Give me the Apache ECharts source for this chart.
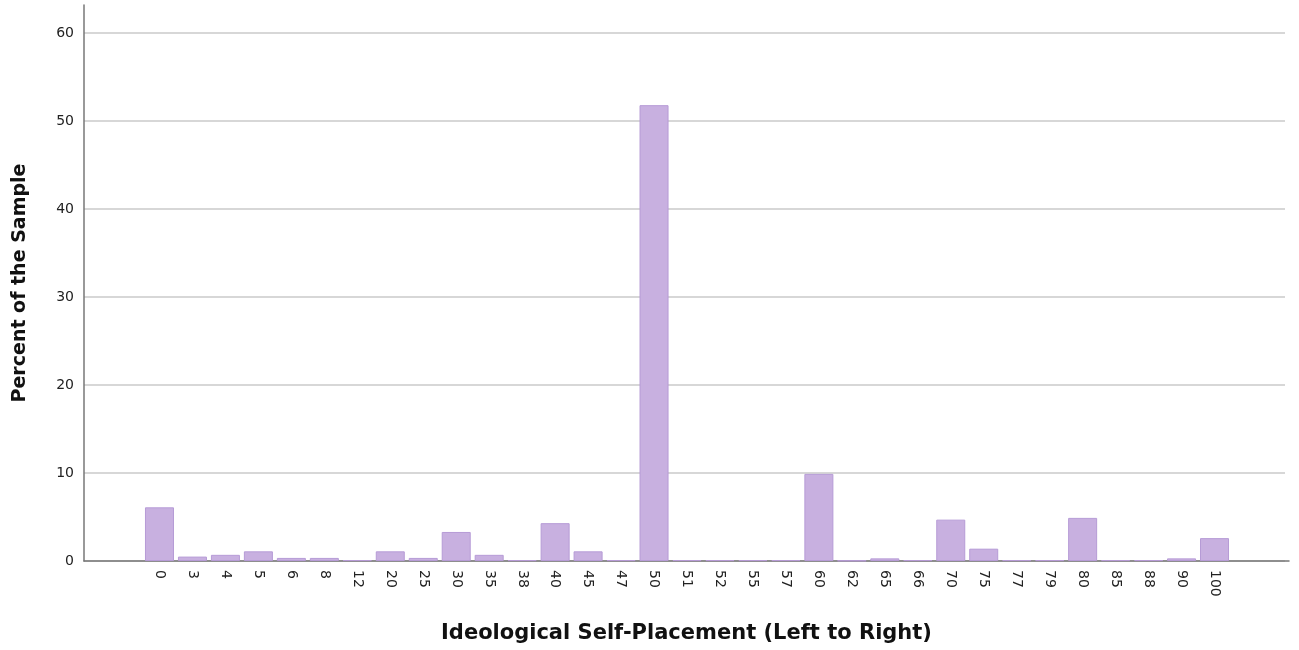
<!DOCTYPE html>
<html>
<head>
<meta charset="utf-8">
<script src="https://cdn.jsdelivr.net/npm/echarts@6/dist/echarts.min.js"></script>
<style>
  html, body { margin: 0; padding: 0; background: #fff; }
  #chart { width: 1299px; height: 650px; }
</style>
</head>
<body>
<div id="chart"></div>
<script>
var categories = ['0', '3', '4', '5', '6', '8', '12', '20', '25', '30', '35', '38', '40', '45', '47',
  '50', '51', '52', '55', '57', '60', '62', '65', '66', '70', '75', '77', '79', '80', '85', '88', '90', '100'];
var percents = [6.1, 0.5, 0.7, 1.1, 0.35, 0.35, 0.1, 1.1, 0.35, 3.3, 0.7, 0.1, 4.3, 1.1, 0.1,
  51.8, 0.1, 0.1, 0.1, 0.1, 9.9, 0.05, 0.3, 0.1, 4.7, 1.4, 0.1, 0.1, 4.9, 0.1, 0.1, 0.3, 2.6];
var yTicks = [0, 10, 20, 30, 40, 50, 60];

var font = 'DejaVu Sans';
var chart = echarts.init(document.getElementById('chart'));

chart.setOption({
  animation: false,
  backgroundColor: '#fff',
  grid: [
    // frame: axis lines + labels + titles
    { left: 84, right: 10, top: 5, bottom: 89, outerBoundsMode: 'none', containLabel: false },
    // gridlines only
    { left: 84, right: 14, top: 33, bottom: 89, outerBoundsMode: 'none', containLabel: false },
    // bars
    { left: 143, width: 1088, top: 33, bottom: 89, outerBoundsMode: 'none', containLabel: false }
  ],
  xAxis: [
    {
      gridIndex: 0, type: 'category', data: [''],
      name: 'Ideological Self-Placement (Left to Right)',
      nameLocation: 'middle', nameGap: 62,
      nameTextStyle: { fontFamily: font, fontWeight: 'bold', fontSize: 21, color: '#111' },
      axisLine: { lineStyle: { color: '#777', width: 1.5 } },
      axisTick: { show: false }, axisLabel: { show: false }
    },
    { gridIndex: 1, type: 'category', data: [''], show: false },
    {
      gridIndex: 2, type: 'category', data: categories,
      axisLine: { show: false }, axisTick: { show: false },
      axisLabel: {
        rotate: -90, interval: 0, margin: 9,
        fontFamily: font, fontSize: 14, color: '#222'
      }
    }
  ],
  yAxis: [
    {
      gridIndex: 0, type: 'value', min: 0, max: 63.2, interval: 10,
      name: 'Percent of the Sample',
      nameLocation: 'middle', nameGap: 54, nameRotate: 90,
      nameTextStyle: { fontFamily: font, fontWeight: 'bold', fontSize: 19, color: '#111' },
      axisLine: { show: true, lineStyle: { color: '#777', width: 1.5 } },
      axisTick: { show: false },
      splitLine: { show: false },
      axisLabel: {
        showMaxLabel: false, margin: 10,
        fontFamily: font, fontSize: 14, color: '#222',
        formatter: function (v) { return yTicks.indexOf(v) >= 0 ? String(v) : ''; }
      }
    },
    {
      gridIndex: 1, type: 'value', min: 0, max: 60, interval: 10,
      axisLine: { show: false }, axisTick: { show: false }, axisLabel: { show: false },
      splitLine: { lineStyle: { color: '#cacaca', width: 1.5 } }
    },
    {
      gridIndex: 2, type: 'value', min: 0, max: 60, interval: 10, show: false
    }
  ],
  series: [{
    type: 'bar',
    xAxisIndex: 2, yAxisIndex: 2,
    data: percents,
    barCategoryGap: '12%',
    itemStyle: { color: '#c8b0e0', borderColor: '#b69bd6', borderWidth: 1 }
  }]
});
</script>
</body>
</html>
